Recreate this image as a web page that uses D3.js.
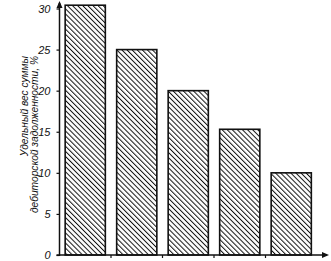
<!DOCTYPE html>
<html>
<head>
<meta charset="utf-8">
<script src="https://cdn.jsdelivr.net/npm/d3@7"></script>
<style>
  body { margin: 0; background: #fff; }
  svg text { font-family: "Liberation Sans", Arial, sans-serif; font-style: italic; fill: #111; }
</style>
</head>
<body>
<svg id="chart" width="331" height="261"></svg>
<script>
// chart values
var categories = ["1", "2", "3", "4", "5"];
var shares = [30.4, 25, 20, 15.3, 10];
var yTicks = [0, 5, 10, 15, 20, 25, 30];
var titleLines = ["Удельный вес суммы", "дебиторской задолженности, %"];

var svg = d3.select("#chart");
var INK = "#111";

var x = d3.scaleBand()
	.domain(categories)
	.range([59.5, 317])
	.paddingInner(0.22)
	.paddingOuter(0.11);

var y = d3.scaleLinear()
	.domain([0, 30])
	.range([255, 8.5]);

// hatch pattern "\\\"
var defs = svg.append("defs");
var pat = defs.append("pattern")
	.attr("id", "hatch")
	.attr("patternUnits", "userSpaceOnUse")
	.attr("width", 3.6)
	.attr("height", 3.6)
	.attr("patternTransform", "rotate(-45)");
pat.append("line")
	.attr("x1", 0).attr("y1", 0)
	.attr("x2", 0).attr("y2", 3.6)
	.attr("stroke", INK)
	.attr("stroke-width", 2);

// bars
svg.selectAll("rect.bar")
	.data(shares)
	.enter().append("rect")
	.attr("class", "bar")
	.attr("x", function(d, i) { return x(categories[i]); })
	.attr("y", function(d) { return y(d); })
	.attr("width", x.bandwidth())
	.attr("height", function(d) { return y(0) - y(d); })
	.attr("fill", "url(#hatch)")
	.attr("stroke", INK)
	.attr("stroke-width", 1.6);

// y axis
var yAxis = d3.axisLeft(y)
	.tickValues(yTicks)
	.tickSize(3)
	.tickPadding(6);
var yg = svg.append("g")
	.attr("transform", "translate(" + x.range()[0] + ",0)")
	.call(yAxis);
yg.select(".domain").remove();
yg.selectAll("line").attr("stroke", INK).attr("stroke-width", 1.2);
yg.selectAll("text").attr("font-size", 11).style("font-family", "Liberation Sans, Arial, sans-serif");

svg.append("line")
	.attr("x1", x.range()[0]).attr("x2", x.range()[0])
	.attr("y1", y(0) + 1).attr("y2", 3)
	.attr("stroke", INK).attr("stroke-width", 1.5);
svg.append("path")
	.attr("d", "M" + (x.range()[0] - 3) + ",8 L" + x.range()[0] + ",1 L" + (x.range()[0] + 3) + ",8 Z")
	.attr("fill", INK);

// x axis with ticks in the gaps between bars
svg.append("line")
	.attr("x1", x.range()[0] - 3).attr("x2", 327)
	.attr("y1", y(0)).attr("y2", y(0))
	.attr("stroke", INK).attr("stroke-width", 1.5);
svg.append("path")
	.attr("d", "M322," + (y(0) - 3) + " L329," + y(0) + " L322," + (y(0) + 3) + " Z")
	.attr("fill", INK);

var gaps = categories.slice(1).map(function(c) {
	return x(c) - x.step() * x.paddingInner() / 2;
});
svg.selectAll("line.xtick")
	.data(gaps)
	.enter().append("line")
	.attr("class", "xtick")
	.attr("x1", function(d) { return d; }).attr("x2", function(d) { return d; })
	.attr("y1", y(0)).attr("y2", y(0) + 3)
	.attr("stroke", INK).attr("stroke-width", 1.2);

// rotated axis title
svg.selectAll("text.ytitle")
	.data(titleLines)
	.enter().append("text")
	.attr("class", "ytitle")
	.attr("transform", function(d, i) { return "translate(" + (28 + i * 9.5) + ",56) rotate(-90)"; })
	.attr("text-anchor", "end")
	.attr("font-size", 10.2)
	.text(function(d) { return d; });
</script>
</body>
</html>
